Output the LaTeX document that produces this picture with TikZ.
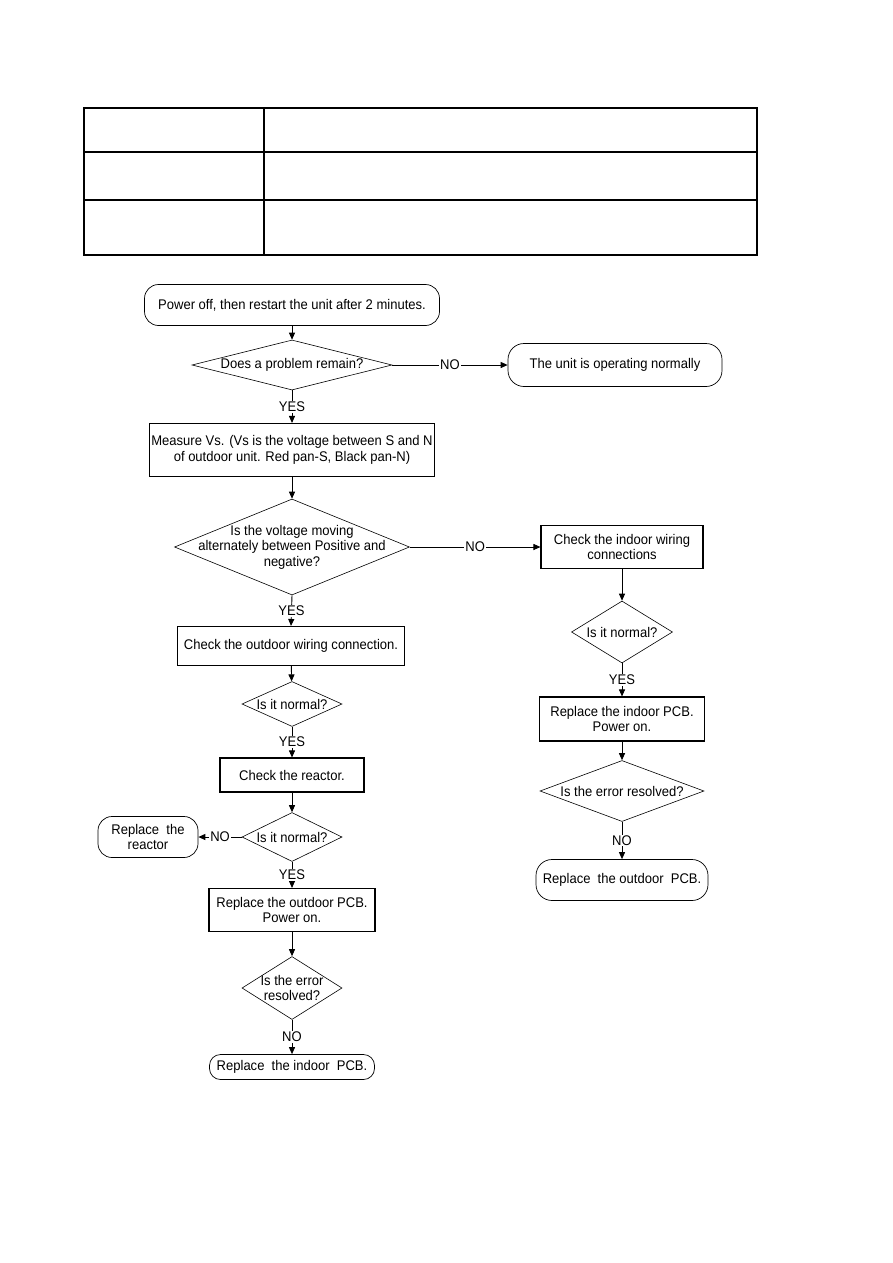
\documentclass[tikz,border=0pt]{standalone}
\usepackage{fontspec}
\setmainfont[FakeStretch=0.93]{Liberation Sans}
\usetikzlibrary{arrows.meta,shapes.geometric}
\begin{document}
\begin{tikzpicture}[x=1pt,y=-1pt,
  txt/.style={font=\fontsize{14}{15.5}\selectfont, align=center, inner sep=0pt},
  procbox/.style={draw, line width=1.1pt, minimum width=#1, inner sep=2pt, font=\fontsize{14}{15.5}\selectfont, align=center},
  termbox/.style={draw, line width=0.7pt, rounded corners=14pt, minimum width=#1, font=\fontsize{14}{15.5}\selectfont, align=center},
  dia/.style={draw, line width=0.6pt, shape=diamond, inner sep=0pt},
  arr/.style={line width=0.9pt, -{Triangle[length=7pt,width=6pt]}},
  lbl/.style={fill=white, inner sep=1pt, font=\fontsize{14}{15.5}\selectfont},
  tbl/.style={line width=1.3pt}
]
\useasboundingbox (0,0) rectangle (893,1263);
% table
\draw[tbl] (84,108) rectangle (757,255);
\draw[tbl] (84,152) -- (757,152);
\draw[tbl] (84,200) -- (757,200);
\draw[tbl] (264,108) -- (264,255);

% left column
\node[termbox=295pt, minimum height=41pt] (start) at (292,305) {Power off, then restart the unit after 2 minutes.};
\node[dia, minimum width=200pt, minimum height=50pt] (d1) at (292,365) {};
\node[txt] at (d1) {Does a problem remain?};
\node[termbox=214pt, minimum height=43pt, rounded corners=16pt] (ok) at (615,365) {The unit is operating normally};
\node[procbox=285pt, minimum height=53pt] (b1) at (292,450) {Measure Vs. (Vs is the voltage between S and N\\of outdoor unit. Red pan-S, Black pan-N)};
\node[dia, minimum width=235pt, minimum height=96pt] (d2) at (292,547) {};
\node[txt] at (d2) {Is the voltage moving\\alternately between Positive and\\negative?};
\node[procbox=227pt, minimum height=39pt] (b2) at (291,646) {Check the outdoor wiring connection.};
\node[dia, minimum width=100pt, minimum height=45pt] (d3) at (292,704) {};
\node[txt] at (d3) {Is it normal?};
\node[procbox=144pt, minimum height=34pt] (b3) at (292,775) {Check the reactor.};
\node[dia, minimum width=100pt, minimum height=49pt] (d4) at (292,837) {};
\node[txt] at (d4) {Is it normal?};
\node[termbox=100pt, minimum height=41pt] (reac) at (148,837) {Replace\ \ the\\reactor};
\node[procbox=166pt, minimum height=43pt] (b4) at (292,910) {Replace the outdoor PCB.\\Power on.};
\node[dia, minimum width=100pt, minimum height=63pt] (d5) at (292,988) {};
\node[txt] at (d5) {Is the error\\resolved?};
\node[termbox=165pt, minimum height=25pt, rounded corners=11pt] (ind) at (292,1067) {Replace\ \ the indoor\ \ PCB.};

% right column
\node[procbox=162pt, minimum height=43pt] (r1) at (622,547) {Check the indoor wiring\\connections};
\node[dia, minimum width=101pt, minimum height=62pt] (rd1) at (622,632) {};
\node[txt] at (rd1) {Is it normal?};
\node[procbox=165pt, minimum height=44pt] (r2) at (622,719) {Replace the indoor PCB.\\Power on.};
\node[dia, minimum width=164pt, minimum height=61pt] (rd2) at (622,791) {};
\node[txt] at (rd2) {Is the error resolved?};
\node[termbox=172pt, minimum height=41pt, rounded corners=16pt] (outd) at (622,880) {Replace\ \ the outdoor\ \ PCB.};

% connectors
\draw[arr] (start) -- (d1);
\draw[arr] (d1.east) -- node[lbl]{NO} (ok.west);
\draw[arr] (d1.south) -- node[lbl]{YES} (b1.north);
\draw[arr] (b1) -- (d2);
\draw[arr] (d2.east) -- node[lbl]{NO} (r1.west);
\draw[arr] (d2.south) -- node[lbl]{YES} (b2.north);
\draw[arr] (b2) -- (d3);
\draw[arr] (d3.south) -- node[lbl]{YES} (b3.north);
\draw[arr] (b3) -- (d4);
\draw[arr] (d4.west) -- node[lbl]{NO} (reac.east);
\draw[arr] (d4.south) -- node[lbl]{YES} (b4.north);
\draw[arr] (b4) -- (d5);
\draw[arr] (d5.south) -- node[lbl]{NO} (ind.north);
\draw[arr] (r1) -- (rd1);
\draw[arr] (rd1.south) -- node[lbl]{YES} (r2.north);
\draw[arr] (r2) -- (rd2);
\draw[arr] (rd2.south) -- node[lbl]{NO} (outd.north);
\end{tikzpicture}
\end{document}
